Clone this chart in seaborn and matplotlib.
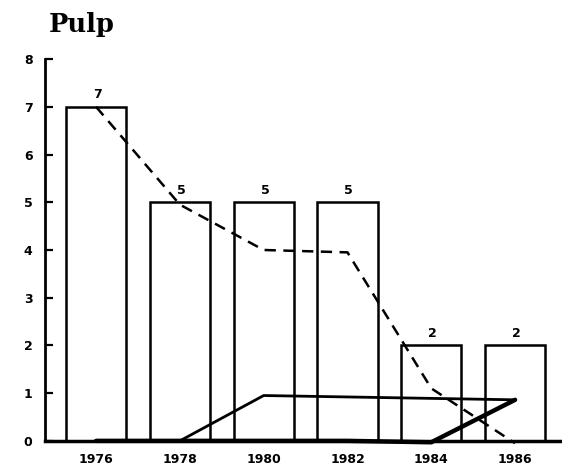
import matplotlib
matplotlib.use("Agg")
import matplotlib.pyplot as plt
import seaborn as sns
import pandas as pd

# ---- data ----
years = [1976, 1978, 1980, 1982, 1984, 1986]
bar_values = [7, 5, 5, 5, 2, 2]
bar_labels = ["7", "5", "5", "5", "2", "2"]
dashed_values = [7.0, 4.95, 4.0, 3.95, 1.1, -0.05]
thin_values = [0.0, 0.0, 0.95, 0.92, 0.89, 0.86]
thick_values = [0.0, 0.0, 0.0, 0.0, -0.03, 0.86]
y_ticks = [0, 1, 2, 3, 4, 5, 6, 7, 8]
title = "Pulp"

sns.set_theme(style="white")
plt.rcParams["font.family"] = ["DejaVu Sans"]
plt.rcParams["text.color"] = "black"

fig = plt.figure(figsize=(5.62, 4.76), dpi=100)
ax = fig.add_axes([0.080, 0.0588, 0.920, 0.822])

df = pd.DataFrame({"year": years, "value": bar_values})
sns.barplot(data=df, x="year", y="value", native_scale=True, width=0.72,
            color="white", edgecolor="black", linewidth=1.8, ax=ax)

sns.lineplot(x=years, y=dashed_values, ax=ax, color="black", linewidth=1.8,
             linestyle=(0, (4.5, 3)))
sns.lineplot(x=years, y=thin_values, ax=ax, color="black", linewidth=2.0)
sns.lineplot(x=years, y=thick_values, ax=ax, color="black", linewidth=3.2)

for yr, v, lab in zip(years, bar_values, bar_labels):
    ax.annotate(lab, (yr, v), xytext=(1, 4), textcoords="offset points",
                ha="center", va="bottom", fontsize=9, fontweight="bold",
                color="black")

ax.set_xlim(1974.78, 1987.12)
ax.set_ylim(-0.15, 8.05)
ax.set_xticks(years)
ax.set_xticklabels([str(y) for y in years])
ax.set_yticks(y_ticks)
ax.set_yticklabels([str(t) for t in y_ticks])
ax.set_xlabel("")
ax.set_ylabel("")

for s in ["top", "right"]:
    ax.spines[s].set_visible(False)
ax.spines["left"].set_bounds(0, 8)
ax.spines["left"].set_linewidth(2.0)
ax.spines["left"].set_color("black")
ax.spines["bottom"].set_position(("data", 0))
ax.spines["bottom"].set_linewidth(2.5)
ax.spines["bottom"].set_color("black")

ax.tick_params(axis="y", direction="in", length=6, width=1.6, pad=9, colors="black", left=True)
ax.tick_params(axis="x", length=0, pad=9, colors="black")
for lab in ax.get_xticklabels() + ax.get_yticklabels():
    lab.set_fontweight("bold")
    lab.set_fontsize(9)
    lab.set_color("black")

fig.text(0.087, 0.933, title, fontsize=18.5, family="DejaVu Serif",
         fontweight="semibold", ha="left", va="baseline", color="black")

fig.savefig("out.png", dpi=100, facecolor="white")
